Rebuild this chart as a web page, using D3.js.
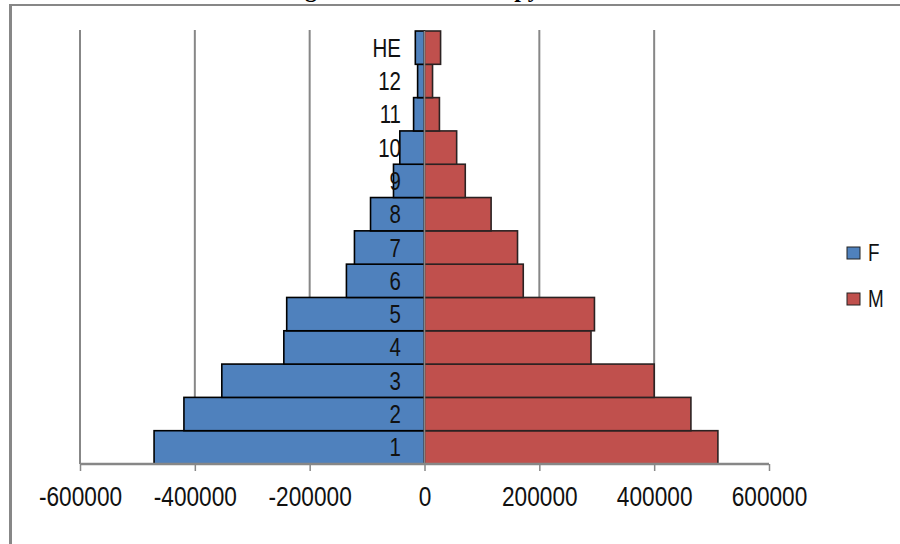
<!DOCTYPE html>
<html>
<head>
<meta charset="utf-8">
<script src="https://cdn.jsdelivr.net/npm/d3@7"></script>
<style>
html,body{margin:0;padding:0;background:#fff;}
svg{display:block;}
</style>
</head>
<body>
<svg width="900" height="544"></svg>
<script>
//////////////////////
// data
var categories=['1','2','3','4','5','6','7','8','9','10','11','12','HE'];
var female=[471000,419000,353000,245000,240000,136000,122000,94000,54000,43000,19000,12000,16000];
var male=[511000,464000,400000,290000,296000,172000,162000,116000,71000,56000,26000,14000,28000];
var ticks=[-600000,-400000,-200000,0,200000,400000,600000];
var grids=[-600000,-400000,-200000,200000,400000];
var series=['F','M'], colors=['#4F81BD','#C0504D'];
var title='Enrolment in grades and the total pyramid';
//////////////////////
var svg=d3.select('svg'), GC='#878787', FN='"Liberation Sans",Arial,sans-serif', SQ=0.82;
var x=d3.scaleLinear().domain([-600000,600000]).range([80,769]);
var y=d3.scaleBand().domain(categories).range([464,31]).padding(0);

// frame + cut title (only the descenders show in the reference)
svg.append('line').attr('x1',10.5).attr('y1',5).attr('x2',10.5).attr('y2',544).attr('stroke',GC).attr('stroke-width',3);
svg.append('line').attr('x1',9).attr('y1',5).attr('x2',900).attr('y2',5).attr('stroke',GC).attr('stroke-width',2);
var t=svg.append('text').attr('x',0).attr('y',-3).attr('font-family','"Liberation Serif",serif')
	.attr('font-weight','bold').attr('font-size',24).text(title);
var gi=title.indexOf('g');
t.attr('x',305-t.node().getStartPositionOfChar(gi).x);

// gridlines
svg.selectAll('.grid').data(grids).enter().append('line')
	.attr('x1',function(d){return x(d);}).attr('x2',function(d){return x(d);})
	.attr('y1',30).attr('y2',464).attr('stroke',GC).attr('stroke-width',2);

// bars
var rows=categories.map(function(c,i){return {c:c,f:female[i],m:male[i]};});
svg.selectAll('.f').data(rows).enter().append('rect')
	.attr('x',function(d){return x(-d.f);}).attr('y',function(d){return y(d.c);})
	.attr('width',function(d){return x(0)-x(-d.f);}).attr('height',y.bandwidth())
	.attr('fill',colors[0]).attr('stroke','#000').attr('stroke-width',1.6);
svg.selectAll('.m').data(rows).enter().append('rect')
	.attr('x',x(0)).attr('y',function(d){return y(d.c);})
	.attr('width',function(d){return x(d.m)-x(0);}).attr('height',y.bandwidth())
	.attr('fill',colors[1]).attr('stroke','#2b2222').attr('stroke-width',1.6);

// vertical axis at zero + category labels (squeezed like the reference)
svg.append('line').attr('x1',x(0)).attr('x2',x(0)).attr('y1',31).attr('y2',464).attr('stroke',GC).attr('stroke-width',1.5);
svg.selectAll('.cl').data(categories).enter().append('text')
	.attr('transform',function(d){return 'translate(401,'+(y(d)+y.bandwidth()/2+9)+') scale('+SQ+',1)';})
	.attr('text-anchor','end').attr('font-family',FN).attr('font-size',25).attr('fill','#111')
	.text(function(d){return d;});

// x axis
var ax=svg.append('g').attr('transform','translate(0,464)')
	.call(d3.axisBottom(x).tickValues(ticks).tickSize(7).tickFormat(function(d){return String(d);}));
ax.select('.domain').attr('stroke',GC).attr('stroke-width',2.5).attr('d','M80,0H769');
ax.selectAll('.tick line').attr('stroke',GC).attr('stroke-width',1.5);
ax.selectAll('.tick text').attr('y',0).attr('dy',0).attr('transform','translate(0,42) scale(0.84,1)')
	.attr('font-family',FN).attr('font-size',27).attr('fill','#111');

// legend
var lg=svg.selectAll('.lg').data(series).enter().append('g')
	.attr('transform',function(d,i){return 'translate(847,'+(247+i*46)+')';});
lg.append('rect').attr('width',13).attr('height',12).attr('fill',function(d,i){return colors[i];})
	.attr('stroke','#222').attr('stroke-width',1);
lg.append('text').attr('transform','translate(21,14) scale('+SQ+',1)').attr('font-family',FN).attr('font-size',23).attr('fill','#111')
	.text(function(d){return d;});
</script>
</body>
</html>
